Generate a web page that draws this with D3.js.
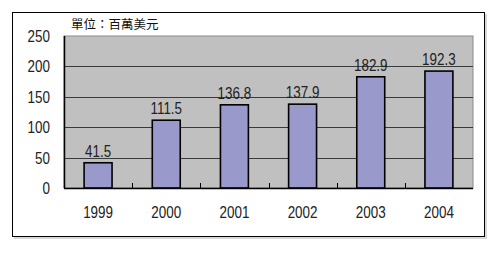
<!DOCTYPE html>
<html>
<head>
<meta charset="utf-8">
<script src="https://cdn.jsdelivr.net/npm/d3@7"></script>
<style>
  body { margin: 0; background: #fff; }
  svg { display: block; }
</style>
</head>
<body>
<svg id="chart" width="500" height="270"></svg>
<script>
var years = ['1999', '2000', '2001', '2002', '2003', '2004']
var values = [41.5, 111.5, 136.8, 137.9, 182.9, 192.3]
var yTicks = [0, 50, 100, 150, 200, 250]
var unitLabel = '單位：百萬美元'

var svg = d3.select('#chart')
var numFont = '"Liberation Sans", Arial, sans-serif'
var squeeze = 0.84  // the original digits are narrow

// outer frame with a small shadow
svg.append('rect')
    .attr('x', 14).attr('y', 14)
    .attr('width', 473).attr('height', 225)
    .attr('fill', '#d8d8d8')
svg.append('rect')
    .attr('x', 12.5).attr('y', 12.5)
    .attr('width', 472).attr('height', 224)
    .attr('fill', '#fff')
    .attr('stroke', '#000')
    .attr('stroke-width', 1)

var plotLeft = 64, plotRight = 473, plotTop = 36, plotBottom = 188

var x = d3.scaleBand()
    .domain(years)
    .range([plotLeft, plotRight])
    .paddingInner(0.59)
    .paddingOuter(0.295)

var xCat = d3.scaleBand()
    .domain(years)
    .range([plotLeft, plotRight])

var y = d3.scaleLinear()
    .domain([0, 250])
    .range([plotBottom, plotTop])

function narrowText(sel, fx, fy) {
  sel.attr('transform', function(d, i) {
        return 'translate(' + fx(d, i) + ',' + fy(d, i) + ') scale(' + squeeze + ',1)'
      })
      .attr('font-family', numFont)
      .attr('font-size', 16)
      .attr('fill', '#222')
}

// plot background
svg.append('rect')
    .attr('x', plotLeft).attr('y', plotTop)
    .attr('width', plotRight - plotLeft).attr('height', plotBottom - plotTop)
    .attr('fill', '#c0c0c0')
    .attr('stroke', '#8a8a8a')
    .attr('stroke-width', 1)

// gridlines
svg.append('g')
    .selectAll('line')
    .data(yTicks.filter(function(d) { return d > 0 && d < 250 }))
    .enter().append('line')
      .attr('x1', plotLeft).attr('x2', plotRight)
      .attr('y1', function(d) { return Math.round(y(d)) + 0.5 })
      .attr('y2', function(d) { return Math.round(y(d)) + 0.5 })
      .attr('stroke', '#3a3a3a')
      .attr('stroke-width', 1.2)

// bars
svg.append('g')
    .selectAll('rect')
    .data(values)
    .enter().append('rect')
      .attr('x', function(d, i) { return x(years[i]) })
      .attr('y', function(d) { return y(d) })
      .attr('width', x.bandwidth())
      .attr('height', function(d) { return plotBottom - y(d) })
      .attr('fill', '#9999cc')
      .attr('stroke', '#000')
      .attr('stroke-width', 1.6)

// value labels
svg.append('g')
    .selectAll('text')
    .data(values)
    .enter().append('text')
      .attr('text-anchor', 'middle')
      .call(narrowText,
            function(d, i) { return x(years[i]) + x.bandwidth() / 2 },
            function(d) { return y(d) - 6 })
      .text(function(d) { return d.toFixed(1) })

// axes lines
svg.append('line')
    .attr('x1', plotLeft + 0.5).attr('x2', plotLeft + 0.5)
    .attr('y1', plotTop).attr('y2', plotBottom)
    .attr('stroke', '#000').attr('stroke-width', 1.5)
svg.append('line')
    .attr('x1', plotLeft).attr('x2', plotRight)
    .attr('y1', plotBottom + 0.5).attr('y2', plotBottom + 0.5)
    .attr('stroke', '#000').attr('stroke-width', 1.5)

// category boundary ticks (inside)
svg.append('g')
    .selectAll('line')
    .data(years.slice(1))
    .enter().append('line')
      .attr('x1', function(d) { return Math.round(xCat(d)) + 0.5 })
      .attr('x2', function(d) { return Math.round(xCat(d)) + 0.5 })
      .attr('y1', plotBottom).attr('y2', plotBottom - 5)
      .attr('stroke', '#000')

// y tick labels
svg.append('g')
    .selectAll('text')
    .data(yTicks)
    .enter().append('text')
      .attr('text-anchor', 'end')
      .call(narrowText,
            function() { return 50 },
            function(d) { return y(d) + 6 })
      .text(function(d) { return d })

// x labels
svg.append('g')
    .selectAll('text')
    .data(years)
    .enter().append('text')
      .attr('text-anchor', 'middle')
      .call(narrowText,
            function(d) { return xCat(d) + xCat.bandwidth() / 2 },
            function() { return 218 })
      .text(function(d) { return d })

// unit label
svg.append('text')
    .attr('x', 71)
    .attr('y', 29)
    .attr('font-family', '"Noto Sans CJK TC", "Noto Sans CJK SC", sans-serif')
    .attr('font-size', 12.5)
    .attr('fill', '#111')
    .text(unitLabel)
</script>
</body>
</html>
